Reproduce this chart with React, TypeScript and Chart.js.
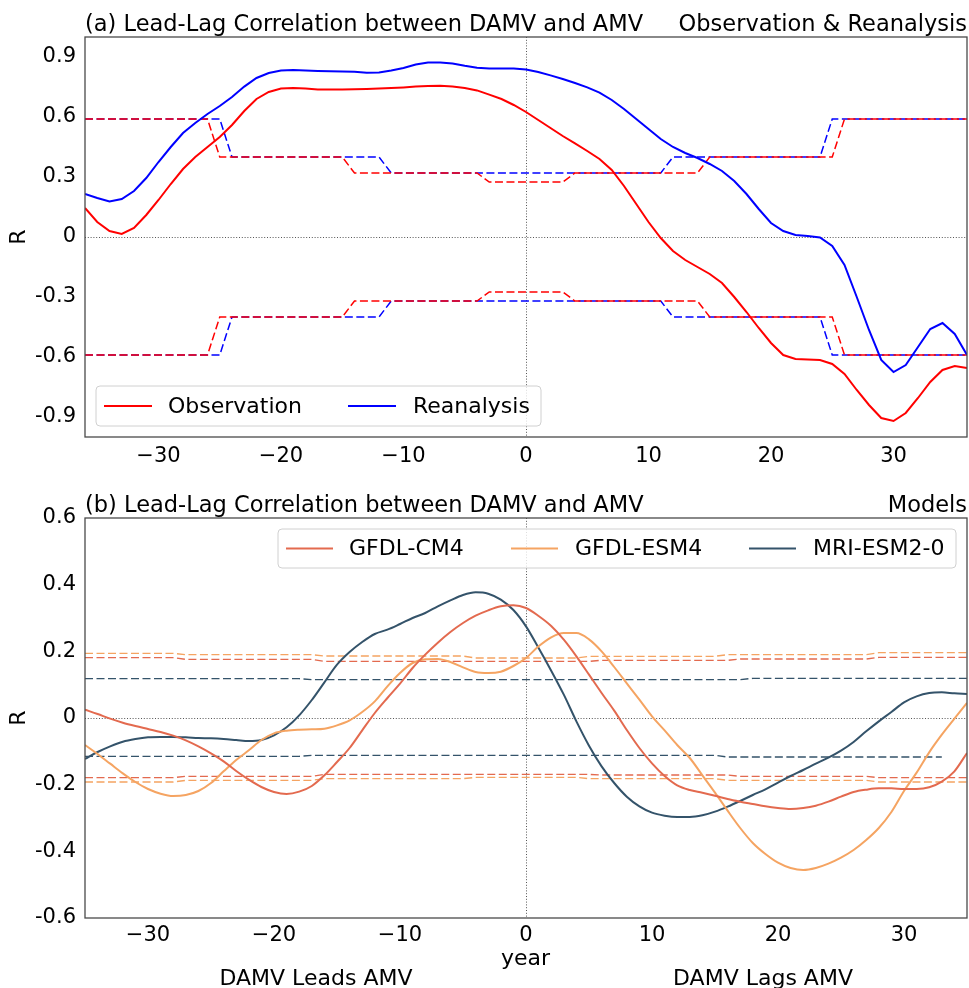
import React, { useEffect, useRef } from 'react';
import { Chart, registerables } from 'chart.js';

Chart.register(...registerables);

// ---------------- Panel (a) data ----------------
const yearsA = [
  -36, -35, -34, -33, -32, -31, -30, -29, -28, -27, -26, -25, -24, -23, -22, -21, -20, -19, -18,
  -17, -16, -15, -14, -13, -12, -11, -10, -9, -8, -7, -6, -5, -4, -3, -2, -1, 0, 1, 2, 3, 4, 5,
  6, 7, 8, 9, 10, 11, 12, 13, 14, 15, 16, 17, 18, 19, 20, 21, 22, 23, 24, 25, 26, 27, 28, 29, 30,
  31, 32, 33, 34, 35, 36,
];

const observation = [
  0.145, 0.075, 0.03, 0.015, 0.045, 0.11, 0.185, 0.265, 0.34, 0.4, 0.45, 0.5, 0.56, 0.63, 0.69,
  0.725, 0.742, 0.745, 0.742, 0.738, 0.738, 0.738, 0.739, 0.74, 0.742, 0.745, 0.748, 0.752, 0.755,
  0.756, 0.753, 0.745, 0.733, 0.712, 0.69, 0.66, 0.625, 0.585, 0.545, 0.505, 0.468, 0.43, 0.39,
  0.335, 0.255, 0.165, 0.075, -0.005, -0.07, -0.115, -0.15, -0.185, -0.23, -0.3, -0.375, -0.455,
  -0.53, -0.59, -0.61, -0.612, -0.615, -0.635, -0.685, -0.765, -0.84, -0.905, -0.92, -0.88,
  -0.805, -0.725, -0.665, -0.645, -0.655,
];

const reanalysis = [
  0.215, 0.195, 0.178, 0.19, 0.23, 0.295, 0.375, 0.45, 0.52, 0.57, 0.615, 0.655, 0.7, 0.752,
  0.795, 0.82, 0.833, 0.835, 0.832, 0.83, 0.829, 0.828, 0.826, 0.821, 0.822, 0.832, 0.845, 0.862,
  0.872, 0.873, 0.868, 0.856, 0.846, 0.842, 0.843, 0.843, 0.838, 0.825, 0.808, 0.79, 0.77, 0.748,
  0.722, 0.685, 0.64, 0.59, 0.54, 0.49, 0.45, 0.42, 0.395, 0.365, 0.33, 0.28, 0.215, 0.14, 0.07,
  0.03, 0.01, 0.005, -0.002, -0.045, -0.14, -0.3, -0.465, -0.615, -0.675, -0.64, -0.55, -0.46,
  -0.43, -0.485, -0.59,
];

const obsSigUpper = [
  0.59, 0.59, 0.59, 0.59, 0.59, 0.59, 0.59, 0.59, 0.59, 0.59, 0.59,
  0.4, 0.4, 0.4, 0.4, 0.4, 0.4, 0.4, 0.4, 0.4, 0.4, 0.4,
  0.32, 0.32, 0.32, 0.32, 0.32, 0.32, 0.32, 0.32, 0.32, 0.32, 0.32,
  0.275, 0.275, 0.275, 0.275, 0.275, 0.275, 0.275,
  0.32, 0.32, 0.32, 0.32, 0.32, 0.32, 0.32, 0.32, 0.32, 0.32, 0.32,
  0.4, 0.4, 0.4, 0.4, 0.4, 0.4, 0.4, 0.4, 0.4, 0.4, 0.4,
  0.59, 0.59, 0.59, 0.59, 0.59, 0.59, 0.59, 0.59, 0.59, 0.59, 0.59,
];
const obsSigLower = [
  -0.59, -0.59, -0.59, -0.59, -0.59, -0.59, -0.59, -0.59, -0.59, -0.59, -0.59,
  -0.4, -0.4, -0.4, -0.4, -0.4, -0.4, -0.4, -0.4, -0.4, -0.4, -0.4,
  -0.32, -0.32, -0.32, -0.32, -0.32, -0.32, -0.32, -0.32, -0.32, -0.32, -0.32,
  -0.275, -0.275, -0.275, -0.275, -0.275, -0.275, -0.275,
  -0.32, -0.32, -0.32, -0.32, -0.32, -0.32, -0.32, -0.32, -0.32, -0.32, -0.32,
  -0.4, -0.4, -0.4, -0.4, -0.4, -0.4, -0.4, -0.4, -0.4, -0.4, -0.4,
  -0.59, -0.59, -0.59, -0.59, -0.59, -0.59, -0.59, -0.59, -0.59, -0.59, -0.59,
];
const reaSigUpper = [
  0.59, 0.59, 0.59, 0.59, 0.59, 0.59, 0.59, 0.59, 0.59, 0.59, 0.59, 0.59,
  0.4, 0.4, 0.4, 0.4, 0.4, 0.4, 0.4, 0.4, 0.4, 0.4, 0.4, 0.4, 0.4,
  0.32, 0.32, 0.32, 0.32, 0.32, 0.32, 0.32, 0.32, 0.32, 0.32, 0.32, 0.32, 0.32, 0.32, 0.32, 0.32,
  0.32, 0.32, 0.32, 0.32, 0.32, 0.32, 0.32,
  0.4, 0.4, 0.4, 0.4, 0.4, 0.4, 0.4, 0.4, 0.4, 0.4, 0.4, 0.4, 0.4,
  0.59, 0.59, 0.59, 0.59, 0.59, 0.59, 0.59, 0.59, 0.59, 0.59, 0.59, 0.59,
];
const reaSigLower = [
  -0.59, -0.59, -0.59, -0.59, -0.59, -0.59, -0.59, -0.59, -0.59, -0.59, -0.59, -0.59,
  -0.4, -0.4, -0.4, -0.4, -0.4, -0.4, -0.4, -0.4, -0.4, -0.4, -0.4, -0.4, -0.4,
  -0.32, -0.32, -0.32, -0.32, -0.32, -0.32, -0.32, -0.32, -0.32, -0.32, -0.32, -0.32, -0.32, -0.32,
  -0.32, -0.32, -0.32, -0.32, -0.32, -0.32, -0.32, -0.32, -0.32,
  -0.4, -0.4, -0.4, -0.4, -0.4, -0.4, -0.4, -0.4, -0.4, -0.4, -0.4, -0.4, -0.4,
  -0.59, -0.59, -0.59, -0.59, -0.59, -0.59, -0.59, -0.59, -0.59, -0.59, -0.59, -0.59,
];

const xTicksA = [-30, -20, -10, 0, 10, 20, 30];
const xTickLabelsA = ['\u221230', '\u221220', '\u221210', '0', '10', '20', '30'];
const yTicksA = [-0.9, -0.6, -0.3, 0, 0.3, 0.6, 0.9];
const yTickLabelsA = ['-0.9', '-0.6', '-0.3', '0', '0.3', '0.6', '0.9'];

// ---------------- Panel (b) data ----------------
const yearsB = [
  -35, -34, -33, -32, -31, -30, -29, -28, -27, -26, -25, -24, -23, -22, -21, -20, -19, -18, -17,
  -16, -15, -14, -13, -12, -11, -10, -9, -8, -7, -6, -5, -4, -3, -2, -1, 0, 1, 2, 3, 4, 5, 6, 7,
  8, 9, 10, 11, 12, 13, 14, 15, 16, 17, 18, 19, 20, 21, 22, 23, 24, 25, 26, 27, 28, 29, 30, 31,
  32, 33, 34, 35,
];

const gfdlCM4 = [
  0.025, 0.012, -0.002, -0.014, -0.024, -0.033, -0.042, -0.053, -0.067, -0.085, -0.106, -0.13,
  -0.159, -0.185, -0.207, -0.222, -0.228, -0.221, -0.204, -0.172, -0.132, -0.09, -0.037, 0.015,
  0.06, 0.103, 0.15, 0.19, 0.226, 0.258, 0.285, 0.307, 0.323, 0.335, 0.338, 0.33, 0.306, 0.276,
  0.235, 0.185, 0.13, 0.075, 0.022, -0.036, -0.09, -0.136, -0.174, -0.202, -0.216, -0.224, -0.233,
  -0.243, -0.251, -0.258, -0.265, -0.27, -0.273, -0.27, -0.263, -0.251, -0.236, -0.222, -0.215,
  -0.211, -0.211, -0.213, -0.213, -0.208, -0.191, -0.16, -0.105,
];

const gfdlESM4 = [
  -0.081, -0.108, -0.137, -0.166, -0.192, -0.213, -0.227, -0.234, -0.231, -0.219, -0.195, -0.16,
  -0.126, -0.097, -0.066, -0.046, -0.038, -0.035, -0.034, -0.032, -0.022, -0.007, 0.018, 0.05,
  0.095, 0.135, 0.165, 0.176, 0.177, 0.168, 0.152, 0.138, 0.135, 0.139, 0.156, 0.18, 0.215, 0.242,
  0.255, 0.255, 0.236, 0.2, 0.153, 0.104, 0.055, 0.005, -0.037, -0.081, -0.12, -0.172, -0.224,
  -0.278, -0.33, -0.375, -0.408, -0.434, -0.45, -0.456, -0.45, -0.437, -0.419, -0.396, -0.366,
  -0.33, -0.282, -0.219, -0.164, -0.103, -0.05, -0.002, 0.045,
];

const mriESM2 = [
  -0.123, -0.102, -0.085, -0.071, -0.063, -0.058, -0.057, -0.057, -0.058, -0.06, -0.061, -0.063,
  -0.066, -0.069, -0.066, -0.052, -0.028, 0.008, 0.054, 0.107, 0.16, 0.198, 0.228, 0.252, 0.265,
  0.282, 0.3, 0.315, 0.335, 0.353, 0.369, 0.377, 0.373, 0.355, 0.324, 0.275, 0.21, 0.142, 0.07,
  -0.01, -0.083, -0.145, -0.195, -0.236, -0.265, -0.284, -0.293, -0.297, -0.297, -0.292, -0.281,
  -0.266, -0.249, -0.231, -0.214, -0.194, -0.174, -0.156, -0.137, -0.119, -0.098, -0.072, -0.04,
  -0.01, 0.018, 0.047, 0.065, 0.075, 0.077, 0.074, 0.072,
];

const cm4SigUpper = [
  0.181, 0.181, 0.181, 0.181, 0.181, 0.181, 0.181, 0.181,
  0.176, 0.176, 0.176, 0.176, 0.176, 0.176, 0.176, 0.176, 0.176, 0.176, 0.176,
  0.17, 0.17, 0.17, 0.17, 0.17, 0.17, 0.17, 0.17, 0.17, 0.17, 0.17, 0.17, 0.17, 0.17, 0.17, 0.17,
  0.17, 0.17, 0.17, 0.17, 0.17, 0.17,
  0.173, 0.173, 0.173, 0.173, 0.173, 0.173, 0.173, 0.173, 0.173, 0.173, 0.173,
  0.177, 0.177, 0.177, 0.177, 0.177, 0.177, 0.177, 0.177, 0.177, 0.177, 0.177,
  0.182, 0.182, 0.182, 0.182, 0.182, 0.182, 0.182, 0.182,
];
const cm4SigLower = [
  -0.179, -0.179, -0.179, -0.179, -0.179, -0.179, -0.179, -0.179,
  -0.175, -0.175, -0.175, -0.175, -0.175, -0.175, -0.175, -0.175, -0.175, -0.175, -0.175,
  -0.169, -0.169, -0.169, -0.169, -0.169, -0.169, -0.169, -0.169, -0.169, -0.169, -0.169, -0.169,
  -0.169, -0.169, -0.169, -0.169, -0.169, -0.169, -0.169, -0.169, -0.169, -0.169,
  -0.171, -0.171, -0.171, -0.171, -0.171, -0.171, -0.171, -0.171, -0.171, -0.171, -0.171,
  -0.175, -0.175, -0.175, -0.175, -0.175, -0.175, -0.175, -0.175, -0.175, -0.175, -0.175,
  -0.179, -0.179, -0.179, -0.179, -0.179, -0.179, -0.179, -0.179,
];
const esm4SigUpper = [
  0.194, 0.194, 0.194, 0.194, 0.194, 0.194, 0.194, 0.194,
  0.19, 0.19, 0.19, 0.19, 0.19, 0.19, 0.19, 0.19, 0.19, 0.19, 0.19,
  0.186, 0.186, 0.186, 0.186, 0.186, 0.186, 0.186, 0.186, 0.186, 0.186, 0.186, 0.186,
  0.18, 0.18, 0.18, 0.18, 0.18, 0.18, 0.18, 0.18, 0.18,
  0.185, 0.185, 0.185, 0.185, 0.185, 0.185, 0.185, 0.185, 0.185, 0.185, 0.185,
  0.19, 0.19, 0.19, 0.19, 0.19, 0.19, 0.19, 0.19, 0.19, 0.19, 0.19, 0.19,
  0.196, 0.196, 0.196, 0.196, 0.196, 0.196, 0.196, 0.196,
];
const esm4SigLower = [
  -0.192, -0.192, -0.192, -0.192, -0.192, -0.192, -0.192, -0.192,
  -0.187, -0.187, -0.187, -0.187, -0.187, -0.187, -0.187, -0.187, -0.187, -0.187, -0.187,
  -0.182, -0.182, -0.182, -0.182, -0.182, -0.182, -0.182, -0.182, -0.182, -0.182, -0.182, -0.182,
  -0.178, -0.178, -0.178, -0.178, -0.178, -0.178, -0.178, -0.178, -0.178,
  -0.182, -0.182, -0.182, -0.182, -0.182, -0.182, -0.182, -0.182, -0.182, -0.182, -0.182,
  -0.187, -0.187, -0.187, -0.187, -0.187, -0.187, -0.187, -0.187, -0.187, -0.187, -0.187, -0.187,
  -0.192, -0.192, -0.192, -0.192, -0.192, -0.192, -0.192, -0.192,
];
const mriSigUpper = [
  0.118, 0.118, 0.118, 0.118, 0.118, 0.118, 0.118, 0.118, 0.118, 0.118, 0.118, 0.118, 0.118,
  0.118, 0.118, 0.118, 0.118, 0.118,
  0.115, 0.115, 0.115, 0.115, 0.115, 0.115, 0.115, 0.115, 0.115, 0.115, 0.115, 0.115, 0.115,
  0.115, 0.115, 0.115, 0.115, 0.115, 0.115, 0.115, 0.115, 0.115, 0.115, 0.115, 0.115, 0.115,
  0.115, 0.115, 0.115, 0.115, 0.115, 0.115, 0.115, 0.115, 0.115,
  0.119, 0.119, 0.119, 0.119, 0.119, 0.119, 0.119, 0.119, 0.119, 0.119, 0.119, 0.119, 0.119,
  0.119, 0.119, 0.119, 0.119, 0.119,
];
const mriSigLower = [
  -0.115, -0.115, -0.115, -0.115, -0.115, -0.115, -0.115, -0.115, -0.115, -0.115, -0.115, -0.115,
  -0.115, -0.115, -0.115, -0.115, -0.115, -0.115,
  -0.112, -0.112, -0.112, -0.112, -0.112, -0.112, -0.112, -0.112, -0.112, -0.112, -0.112, -0.112,
  -0.112, -0.112, -0.112, -0.112, -0.112, -0.112, -0.112, -0.112, -0.112, -0.112, -0.112, -0.112,
  -0.112, -0.112, -0.112, -0.112, -0.112, -0.112, -0.112, -0.112, -0.112,
  -0.117, -0.117, -0.117, -0.117, -0.117, -0.117, -0.117, -0.117, -0.117, -0.117, -0.117, -0.117,
  -0.117, -0.117, -0.117, -0.117, -0.117, -0.117,
];

const xTicksB = [-30, -20, -10, 0, 10, 20, 30];
const xTickLabelsB = ['\u221230', '\u221220', '\u221210', '0', '10', '20', '30'];
const yTicksB = [-0.6, -0.4, -0.2, 0, 0.2, 0.4, 0.6];
const yTickLabelsB = ['-0.6', '-0.4', '-0.2', '0', '0.2', '0.4', '0.6'];

// ---------------- styling ----------------
const FONT = "'DejaVu Sans', 'Liberation Sans', sans-serif";
const RED = '#ff0000';
const BLUE = '#0000ff';
const C_CM4 = '#e36a4f';
const C_ESM4 = '#f5a462';
const C_MRI = '#34536a';

const pts = (xs: number[], ys: number[]) => xs.map((x, i) => ({ x, y: ys[i] }));

function solid(label: string, xs: number[], ys: number[], color: string, smooth: boolean) {
  return {
    label,
    data: pts(xs, ys),
    borderColor: color,
    borderWidth: 2,
    pointRadius: 0,
    fill: false,
    tension: 0,
    cubicInterpolationMode: smooth ? 'monotone' : 'default',
  };
}
function dashed(label: string, xs: number[], ys: number[], color: string, width: number) {
  return {
    label,
    data: pts(xs, ys),
    borderColor: color,
    borderWidth: width,
    borderDash: [8, 3.5],
    pointRadius: 0,
    fill: false,
    tension: 0,
  };
}

type LegendItem = { label: string; color: string; x0: number; x1: number; tx: number };

function makePlugins(opts: {
  leftTitle: string;
  rightTitle: string;
  legendBox: (a: any) => { x: number; y: number; w: number; h: number };
  legendItems: LegendItem[];
  extra?: (ctx: CanvasRenderingContext2D, a: any) => void;
}) {
  return [
    {
      id: 'zeroLines',
      beforeDatasetsDraw(chart: any) {
        const { ctx, chartArea: a, scales } = chart;
        const x0 = Math.round(scales.x.getPixelForValue(0)) + 0.5;
        const y0 = Math.round(scales.y.getPixelForValue(0)) + 0.5;
        ctx.save();
        ctx.strokeStyle = '#555';
        ctx.lineWidth = 1;
        ctx.setLineDash([1, 1.8]);
        ctx.beginPath();
        ctx.moveTo(x0, a.top);
        ctx.lineTo(x0, a.bottom);
        ctx.moveTo(a.left, y0);
        ctx.lineTo(a.right, y0);
        ctx.stroke();
        ctx.restore();
      },
    },
    {
      id: 'frameAndText',
      afterDraw(chart: any) {
        const { ctx, chartArea: a } = chart;
        ctx.save();
        // frame
        ctx.strokeStyle = '#4a4a4a';
        ctx.lineWidth = 1.3;
        ctx.strokeRect(a.left, a.top, a.right - a.left, a.bottom - a.top);
        // titles
        ctx.fillStyle = '#000';
        ctx.font = `22.5px ${FONT}`;
        ctx.textBaseline = 'alphabetic';
        ctx.textAlign = 'left';
        ctx.fillText(opts.leftTitle, a.left, a.top - 6);
        ctx.textAlign = 'right';
        ctx.fillText(opts.rightTitle, a.right, a.top - 6);
        // y label
        ctx.save();
        ctx.font = `22px ${FONT}`;
        ctx.translate(19, (a.top + a.bottom) / 2);
        ctx.rotate(-Math.PI / 2);
        ctx.textAlign = 'center';
        ctx.textBaseline = 'middle';
        ctx.fillText('R', 0, 0);
        ctx.restore();
        // legend
        const b = opts.legendBox(a);
        ctx.beginPath();
        const r = 4;
        ctx.moveTo(b.x + r, b.y);
        ctx.lineTo(b.x + b.w - r, b.y);
        ctx.arcTo(b.x + b.w, b.y, b.x + b.w, b.y + r, r);
        ctx.lineTo(b.x + b.w, b.y + b.h - r);
        ctx.arcTo(b.x + b.w, b.y + b.h, b.x + b.w - r, b.y + b.h, r);
        ctx.lineTo(b.x + r, b.y + b.h);
        ctx.arcTo(b.x, b.y + b.h, b.x, b.y + b.h - r, r);
        ctx.lineTo(b.x, b.y + r);
        ctx.arcTo(b.x, b.y, b.x + r, b.y, r);
        ctx.closePath();
        ctx.fillStyle = 'rgba(255,255,255,0.8)';
        ctx.fill();
        ctx.strokeStyle = '#d0d0d0';
        ctx.lineWidth = 1;
        ctx.stroke();
        const cy = b.y + b.h / 2;
        opts.legendItems.forEach((it) => {
          ctx.strokeStyle = it.color;
          ctx.lineWidth = 2;
          ctx.beginPath();
          ctx.moveTo(it.x0, cy);
          ctx.lineTo(it.x1, cy);
          ctx.stroke();
          ctx.fillStyle = '#000';
          ctx.font = `22px ${FONT}`;
          ctx.textAlign = 'left';
          ctx.textBaseline = 'middle';
          ctx.fillText(it.label, it.tx, cy + 1);
        });
        if (opts.extra) opts.extra(ctx, a);
        ctx.restore();
      },
    },
  ];
}

function scales(
  xmin: number, xmax: number, xTicks: number[], xLabels: string[],
  ymin: number, ymax: number, yTicks: number[], yLabels: string[],
  xHeight: number, xPad: number,
) {
  return {
    x: {
      type: 'linear',
      min: xmin,
      max: xmax,
      afterBuildTicks: (s: any) => { s.ticks = xTicks.map((v) => ({ value: v })); },
      afterFit: (s: any) => { s.height = xHeight; },
      ticks: {
        autoSkip: false,
        maxRotation: 0,
        padding: xPad,
        color: '#000',
        font: { family: FONT, size: 21 },
        callback: (_v: any, i: number) => xLabels[i],
      },
      grid: { display: false, drawTicks: false },
      border: { display: false },
    },
    y: {
      type: 'linear',
      min: ymin,
      max: ymax,
      afterBuildTicks: (s: any) => { s.ticks = yTicks.map((v) => ({ value: v })); },
      afterFit: (s: any) => { s.width = 85; },
      ticks: {
        autoSkip: false,
        padding: 9,
        color: '#000',
        font: { family: FONT, size: 21 },
        callback: (_v: any, i: number) => yLabels[i],
      },
      grid: { display: false, drawTicks: false },
      border: { display: false },
    },
  };
}

export default function App() {
  const refA = useRef<HTMLCanvasElement>(null);
  const refB = useRef<HTMLCanvasElement>(null);

  useEffect(() => {
    const chartA = new Chart(refA.current as HTMLCanvasElement, {
      type: 'line',
      data: {
        datasets: [
          solid('Observation', yearsA, observation, RED, false),
          solid('Reanalysis', yearsA, reanalysis, BLUE, false),
          dashed('Obs sig +', yearsA, obsSigUpper, RED, 1.5),
          dashed('Obs sig -', yearsA, obsSigLower, RED, 1.5),
          dashed('Rea sig +', yearsA, reaSigUpper, BLUE, 1.5),
          dashed('Rea sig -', yearsA, reaSigLower, BLUE, 1.5),
        ] as any,
      },
      options: {
        animation: false,
        responsive: false,
        maintainAspectRatio: false,
        layout: { padding: { top: 37, right: 2, left: 0, bottom: 0 } },
        plugins: { legend: { display: false }, tooltip: { enabled: false }, title: { display: false } },
        scales: scales(-36, 36, xTicksA, xTickLabelsA, -1, 1, yTicksA, yTickLabelsA, 43, 7) as any,
      },
      plugins: makePlugins({
        leftTitle: '(a) Lead-Lag Correlation between DAMV and AMV',
        rightTitle: 'Observation & Reanalysis',
        legendBox: (a) => ({ x: a.left + 11, y: a.bottom - 51, w: 445, h: 40 }),
        legendItems: [
          { label: 'Observation', color: RED, x0: 104, x1: 152, tx: 168 },
          { label: 'Reanalysis', color: BLUE, x0: 348, x1: 396, tx: 413 },
        ],
      }) as any,
    });

    const chartB = new Chart(refB.current as HTMLCanvasElement, {
      type: 'line',
      data: {
        datasets: [
          solid('GFDL-CM4', yearsB, gfdlCM4, C_CM4, true),
          solid('GFDL-ESM4', yearsB, gfdlESM4, C_ESM4, true),
          solid('MRI-ESM2-0', yearsB, mriESM2, C_MRI, true),
          dashed('CM4 sig +', yearsB, cm4SigUpper, C_CM4, 1.4),
          dashed('CM4 sig -', yearsB, cm4SigLower, C_CM4, 1.4),
          dashed('ESM4 sig +', yearsB, esm4SigUpper, C_ESM4, 1.4),
          dashed('ESM4 sig -', yearsB, esm4SigLower, C_ESM4, 1.4),
          dashed('MRI sig +', yearsB, mriSigUpper, C_MRI, 1.4),
          dashed('MRI sig -', yearsB, mriSigLower, C_MRI, 1.4),
        ] as any,
      },
      options: {
        animation: false,
        responsive: false,
        maintainAspectRatio: false,
        layout: { padding: { top: 38, right: 2, left: 0, bottom: 0 } },
        plugins: { legend: { display: false }, tooltip: { enabled: false }, title: { display: false } },
        scales: scales(-35, 35, xTicksB, xTickLabelsB, -0.6, 0.6, yTicksB, yTickLabelsB, 70, 5) as any,
      },
      plugins: makePlugins({
        leftTitle: '(b) Lead-Lag Correlation between DAMV and AMV',
        rightTitle: 'Models',
        legendBox: (a) => ({ x: 278, y: a.top + 11, w: 678, h: 39 }),
        legendItems: [
          { label: 'GFDL-CM4', color: C_CM4, x0: 286, x1: 333, tx: 349 },
          { label: 'GFDL-ESM4', color: C_ESM4, x0: 511, x1: 558, tx: 575 },
          { label: 'MRI-ESM2-0', color: C_MRI, x0: 749, x1: 796, tx: 813 },
        ],
        extra: (ctx, a) => {
          ctx.fillStyle = '#000';
          ctx.font = `22px ${FONT}`;
          ctx.textAlign = 'center';
          ctx.textBaseline = 'alphabetic';
          ctx.fillText('year', (a.left + a.right) / 2 - 0.5, a.bottom + 47);
          ctx.fillText('DAMV Leads AMV', 316, a.bottom + 67);
          ctx.fillText('DAMV Lags AMV', 763, a.bottom + 67);
        },
      }) as any,
    });

    return () => {
      chartA.destroy();
      chartB.destroy();
    };
  }, []);

  return (
    <div style={{ position: 'absolute', left: 0, top: 0, width: 969, height: 988, background: '#ffffff' }}>
      <canvas ref={refA} width={969} height={480} style={{ display: 'block', width: 969, height: 480 }} />
      <canvas ref={refB} width={969} height={508} style={{ display: 'block', width: 969, height: 508 }} />
    </div>
  );
}
